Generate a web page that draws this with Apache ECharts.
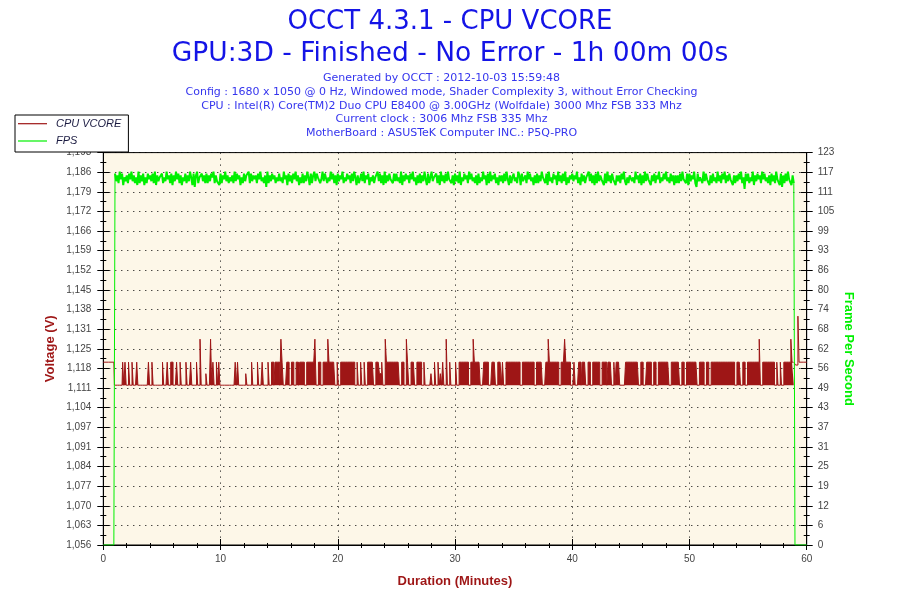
<!DOCTYPE html>
<html>
<head>
<meta charset="utf-8">
<script src="https://cdn.jsdelivr.net/npm/echarts@6/dist/echarts.min.js"></script>
<style>
html,body{margin:0;padding:0;background:#fff;}
#chart{width:900px;height:600px;}
</style>
</head>
<body>
<div id="chart"></div>
<script>
// ---- text ----
const titleLines = ['OCCT 4.3.1 - CPU VCORE', 'GPU:3D - Finished - No Error - 1h 00m 00s'];
const infoLines = [
  'Generated by OCCT : 2012-10-03 15:59:48',
  'Config : 1680 x 1050 @ 0 Hz, Windowed mode, Shader Complexity 3, without Error Checking',
  'CPU : Intel(R) Core(TM)2 Duo CPU E8400 @ 3.00GHz (Wolfdale) 3000 Mhz FSB 333 Mhz',
  'Current clock : 3006 Mhz FSB 335 Mhz',
  'MotherBoard : ASUSTeK Computer INC.: P5Q-PRO'
];
const seriesNames = ['CPU VCORE', 'FPS'];

// ---- tick labels ----
const voltTickLabels = ['1,056','1,063','1,070','1,077','1,084','1,091','1,097','1,104','1,111','1,118','1,125',
  '1,131','1,138','1,145','1,152','1,159','1,166','1,172','1,179','1,186','1,193'];
const fpsTickLabels = ['0','6','12','19','25','31','37','43','49','56','62','68','74','80','86','93','99','105','111','117','123'];
const voltRange = [1.05645, 1.19285];
const fpsRange = [0, 123.4];
const minuteRange = [0, 60];

// ---- data ----
// samples every 0.1 minute from minute 1.0 to 58.9 (one group of 10 samples per minute)
const sampleStart = 1.0;
const sampleStep = 0.1;
// voltage levels used by the codes: 0 -> 1.112, 1 -> 1.120, 2 -> 1.128, 3 -> 1.116
const vcoreLevels = [1.112, 1.120, 1.128, 1.116];
const vcoreBase = 1.112;
const vcoreHead = [[0, 1.120], [0.9, 1.120]];
const vcoreMinuteCodes = [
  '0000000101','0010010001','0000000001','0010000000','0100010011','0001001000','0100010000','1002000030',
  '0020100101','0000000000','0001010000','0030000100','0010001000','0100110111','1021000110','0110011011',
  '1100111111','1200110011','1121111100','1001111111','1111100100','1001001111','1001113310','0211111111',
  '1110011002','1001110011','1100100000','3001001030','1002001000','0100111111','1100112111','1100011110',
  '0011100111','0100111111','1111110011','1111111100','1111100011','2111111110','0111211110','0010001101',
  '1100110011','1111001111','0111001011','1000001111','1111111001','1000111100','1100111111','1110011111',
  '1100110011','1111111001','1110011001','1111111111','1111111110','0111001100','1111111111','2001111111',
  '1110010010','0111111211'
];
const vcoreTail = [[59.0, 1.120], [59.1, 1.119], [59.2, 1.119], [59.3, 1.136], [59.4, 1.120], [60.0, 1.120]];

// FPS levels used by the codes (digit -> fps)
const fpsLevels = [112.0, 112.6, 113.2, 113.8, 114.4, 115.0, 115.6, 116.2, 116.8, 117.4];
const fpsHead = [[0, 0], [0.9, 0]];
const fpsMinuteCodes = [
  '8473958264','7385947362','9374826385','7483927465','8364957382','7495837264','8374962817','9365847383',
  '7486937452','8375947364','7394857263','8476938475','7385946371','9374857364','8463957284','7385947263',
  '8374962837','9486735948','7364958372','8475936485','7384962735','8493758264','7365948372','9374856384',
  '8463927485','7385946273','8374952836','9465837294','7384956372','8473926485','7395846372','8364957283',
  '9475836274','7384952736','8463972845','7395846273','8374965382','9463857294','7384926375','8475936284',
  '7365948372','8394756283','9473856274','7385942637','8463957382','7394856274','8375936485','9463847273',
  '7384956382','8475931846','7394856273','8463947385','9374856273','7485936084','8364927485','7395846372',
  '8473956281','7384956273'
];
const fpsTail = [[59.0, 0], [60.0, 0]];

function decode(codes, levels) {
  const out = [];
  let i = 0;
  codes.forEach(function (group) {
    for (const ch of group) {
      out.push([+(sampleStart + i * sampleStep).toFixed(2), levels[+ch]]);
      i++;
    }
  });
  return out;
}
const vcoreMain = decode(vcoreMinuteCodes, vcoreLevels);
const fpsMain = decode(fpsMinuteCodes, fpsLevels);
const vcoreStart = vcoreHead.concat([vcoreMain[0]]);
const vcoreEnd = [vcoreMain[vcoreMain.length - 1]].concat(vcoreTail);
const fpsStart = fpsHead.concat([fpsMain[0]]);
const fpsEnd = [fpsMain[fpsMain.length - 1]].concat(fpsTail);

// ---- style ----
const RED = '#9E1616';
const GREEN = '#00F000';
const AXIS_FONT = 'Liberation Sans, Arial, sans-serif';
const TITLE_BLUE = '#1414E6';
const INFO_BLUE = '#3535EE';
const dotted = { color: '#000', type: [1, 5], width: 1 };

const chart = echarts.init(document.getElementById('chart'), null, { renderer: 'canvas' });

const titles = [
  { text: titleLines[0], left: 450, top: 9.5, padding: 0, textAlign: 'center',
    textStyle: { fontFamily: 'DejaVu Sans', fontSize: 26, fontWeight: 'normal', color: TITLE_BLUE } },
  { text: titleLines[1], left: 450, top: 40.5, padding: 0, textAlign: 'center',
    textStyle: { fontFamily: 'DejaVu Sans', fontSize: 26.5, fontWeight: 'normal', color: TITLE_BLUE } }
].concat(infoLines.map(function (t, i) {
  return { text: t, left: 441.5, top: 72.8 + i * 13.75, padding: 0, textAlign: 'center',
    textStyle: { fontFamily: 'DejaVu Sans', fontSize: 11, fontWeight: 'normal', color: INFO_BLUE } };
}));

function tickAxis(pos, labels, inside, extra) {
  const ax = {
    type: 'value', position: pos, min: 0, max: 20, interval: 1,
    axisLine: { show: !inside, onZero: false, lineStyle: { color: '#000', width: 1 } },
    axisTick: { show: true, inside: inside, length: 6, lineStyle: { color: '#000' } },
    minorTick: { show: true, splitNumber: 2, length: 3, lineStyle: { color: '#000' } },
    axisLabel: { show: !inside, margin: pos === 'left' ? 12 : 11, color: '#444', fontFamily: AXIS_FONT, fontSize: 10,
      formatter: function (v) { return labels[Math.round(v)]; } },
    splitLine: { show: false }
  };
  return Object.assign(ax, extra || {});
}

function lineSeries(name, yIndex, data, color, width, extra) {
  return Object.assign({
    name: name, type: 'line', xAxisIndex: 0, yAxisIndex: yIndex, data: data,
    symbol: 'none', showSymbol: false, sampling: null,
    lineStyle: { color: color, width: width }, itemStyle: { color: color }
  }, extra || {});
}

const option = {
  animation: false,
  backgroundColor: '#fff',
  title: titles,
  legend: {
    data: seriesNames, orient: 'vertical', left: 15, top: 115,
    icon: 'rect', itemWidth: 29, itemHeight: 1.2, itemGap: 6.3,
    padding: [3.2, 7, 5.5, 3],
    backgroundColor: '#fff', borderColor: '#000', borderWidth: 1, borderRadius: 0,
    textStyle: { fontFamily: AXIS_FONT, fontSize: 11, fontStyle: 'italic', color: '#1a1a40', padding: [0, 0, 0, 4] },
    z: 10
  },
  grid: { left: 103.3, right: 93.3, top: 152.6, bottom: 55, show: true,
    backgroundColor: '#FDF7E8', borderColor: '#000', borderWidth: 1, containLabel: false },
  xAxis: [
    { type: 'value', min: minuteRange[0], max: minuteRange[1], interval: 10, position: 'bottom',
      axisLine: { onZero: false, lineStyle: { color: '#000' } },
      axisTick: { length: 5, lineStyle: { color: '#000' } },
      minorTick: { show: true, splitNumber: 5, length: 3, lineStyle: { color: '#000' } },
      axisLabel: { margin: 9, color: '#444', fontFamily: AXIS_FONT, fontSize: 10 },
      splitLine: { show: true, lineStyle: dotted },
      name: 'Duration (Minutes)', nameLocation: 'middle', nameGap: 30,
      nameTextStyle: { color: RED, fontFamily: AXIS_FONT, fontSize: 13, fontWeight: 'bold' } },
    { type: 'value', min: minuteRange[0], max: minuteRange[1], interval: 10, position: 'bottom',
      axisLine: { show: false, onZero: false },
      axisTick: { inside: true, length: 6, lineStyle: { color: '#000' } },
      minorTick: { show: true, splitNumber: 5, length: 2, lineStyle: { color: '#000' } },
      axisLabel: { show: false }, splitLine: { show: false } }
  ],
  yAxis: [
    { type: 'value', min: voltRange[0], max: voltRange[1], position: 'left', show: false,
      axisLine: { onZero: false }, splitLine: { show: false } },
    { type: 'value', min: fpsRange[0], max: fpsRange[1], position: 'right', show: false,
      axisLine: { onZero: false }, splitLine: { show: false } },
    tickAxis('left', voltTickLabels, false, {
      splitLine: { show: true, lineStyle: dotted },
      name: 'Voltage (V)', nameLocation: 'middle', nameGap: 46, nameRotate: 90, nameMoveOverlap: false,
      nameTextStyle: { color: RED, fontFamily: AXIS_FONT, fontSize: 13, fontWeight: 'bold' } }),
    tickAxis('left', voltTickLabels, true),
    tickAxis('right', fpsTickLabels, false, {
      name: 'Frame Per Second', nameLocation: 'middle', nameGap: 35, nameRotate: -90, nameMoveOverlap: false,
      nameTextStyle: { color: GREEN, fontFamily: AXIS_FONT, fontSize: 13, fontWeight: 'bold' } }),
    tickAxis('right', fpsTickLabels, true)
  ],
  series: [
    lineSeries(seriesNames[0], 0, vcoreMain, RED, 1, {
      step: 'middle', z: 2, areaStyle: { color: RED, opacity: 1, origin: vcoreBase } }),
    lineSeries(seriesNames[0], 0, vcoreStart, RED, 1, { step: 'middle', z: 2 }),
    lineSeries(seriesNames[0], 0, vcoreEnd, RED, 1, { step: 'middle', z: 2 }),
    lineSeries(seriesNames[1], 1, fpsMain, GREEN, 2, { z: 3 }),
    lineSeries(seriesNames[1], 1, fpsStart, GREEN, 1, { z: 3 }),
    lineSeries(seriesNames[1], 1, fpsEnd, GREEN, 1, { z: 3 })
  ]
};
chart.setOption(option);
</script>
</body>
</html>
